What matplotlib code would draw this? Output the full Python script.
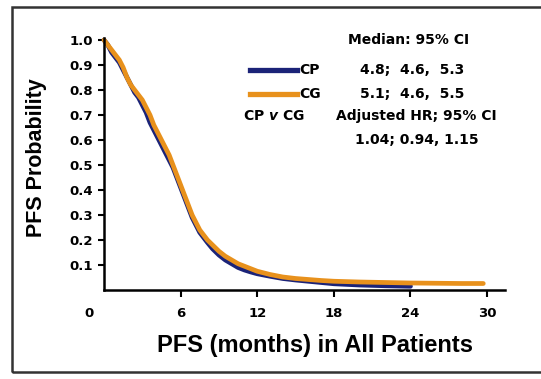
import matplotlib.pyplot as plt
from matplotlib.patches import Rectangle
from matplotlib.transforms import ScaledTranslation

plt.rcParams['font.family'] = ['DejaVu Sans']
plt.rcParams['font.weight'] = 'bold'
plt.rcParams['mathtext.fontset'] = 'dejavusans'

# Kaplan-Meier PFS estimates (months, probability)
cp_months = [0, 0.3, 0.6, 0.9, 1.2, 1.5, 1.8, 2.1, 2.4, 2.7, 3.0, 3.3, 3.6, 3.9,
             4.2, 4.5, 4.8, 5.1, 5.4, 5.7, 6.0, 6.3, 6.6, 6.9, 7.2, 7.5, 7.8,
             8.1, 8.5, 9.0, 9.5, 10.0, 10.5, 11.0, 11.5, 12.0, 13.0, 14.0,
             15.0, 16.0, 17.0, 18.0, 20.0, 22.0, 24.0]
cp_pfs = [1.0, 0.98, 0.95, 0.93, 0.91, 0.88, 0.85, 0.82, 0.79, 0.77, 0.74,
          0.71, 0.67, 0.64, 0.61, 0.58, 0.55, 0.52, 0.49, 0.45, 0.41, 0.37,
          0.33, 0.29, 0.26, 0.23, 0.21, 0.19, 0.165, 0.14, 0.12, 0.105, 0.09,
          0.08, 0.072, 0.065, 0.055, 0.046, 0.04, 0.035, 0.03, 0.025, 0.02,
          0.017, 0.015]

cg_months = [0, 0.3, 0.6, 0.9, 1.2, 1.5, 1.8, 2.1, 2.4, 2.7, 3.0, 3.3, 3.6, 3.9,
             4.2, 4.5, 4.8, 5.1, 5.4, 5.7, 6.0, 6.3, 6.6, 6.9, 7.2, 7.5, 7.8,
             8.1, 8.5, 9.0, 9.5, 10.0, 10.5, 11.0, 11.5, 12.0, 13.0, 14.0,
             15.0, 16.0, 17.0, 18.0, 20.0, 22.0, 24.0, 26.0, 28.0, 29.7]
cg_pfs = [1.0, 0.98, 0.96, 0.94, 0.92, 0.89, 0.85, 0.82, 0.80, 0.78, 0.76,
          0.73, 0.70, 0.66, 0.63, 0.60, 0.57, 0.54, 0.50, 0.46, 0.42, 0.38,
          0.34, 0.30, 0.27, 0.24, 0.22, 0.20, 0.18, 0.155, 0.135, 0.12, 0.105,
          0.095, 0.085, 0.075, 0.062, 0.052, 0.046, 0.042, 0.038, 0.035,
          0.032, 0.03, 0.028, 0.027, 0.026, 0.026]

x_ticks = [0, 6, 12, 18, 24, 30]
y_ticks = [0.1, 0.2, 0.3, 0.4, 0.5, 0.6, 0.7, 0.8, 0.9, 1.0]

W, H = 541, 379
BLUE = '#1b2378'
ORANGE = '#e8911c'

fig = plt.figure(figsize=(W / 100, H / 100), dpi=100)


def fx(px):
    return px / W


def fy(py):
    return 1 - py / H


# outer frame
fig.add_artist(Rectangle((fx(12), fy(372)), fx(545) - fx(12), fy(7) - fy(372),
                         transform=fig.transFigure, fill=False,
                         edgecolor='#333333', linewidth=1.8))

ax = fig.add_axes([fx(104), fy(290), fx(505) - fx(104), fy(40) - fy(290)])
ax.plot(cp_months, cp_pfs, color=BLUE, lw=3.4, clip_on=False,
        solid_joinstyle='round', solid_capstyle='round')
ax.plot(cg_months, cg_pfs, color=ORANGE, lw=3.4, clip_on=False,
        solid_joinstyle='round', solid_capstyle='round')

ax.set_xlim(0, 31.4)
ax.set_ylim(0, 1.0)
for s in ['top', 'right']:
    ax.spines[s].set_visible(False)
for s in ['left', 'bottom']:
    ax.spines[s].set_linewidth(1.8)
ax.spines['left'].set_bounds(0, 1.01)

ax.set_xticks(x_ticks)
ax.set_xticklabels([str(t) for t in x_ticks], fontsize=9.5, fontweight='bold')
ax.set_yticks(y_ticks)
ax.set_yticklabels([f'{v:.1f}' for v in y_ticks], fontsize=9.5, fontweight='bold')
ax.tick_params(axis='x', length=5, width=1.5, pad=7)
ax.tick_params(axis='y', length=4, width=1.5, pad=4)
# the "0" sits left of the corner and has no tick mark
ax.xaxis.get_major_ticks()[0].tick1line.set_visible(False)
lbl0 = ax.get_xticklabels()[0]
lbl0.set_transform(lbl0.get_transform() + ScaledTranslation(-15 / 100, 0, fig.dpi_scale_trans))

ax.set_ylabel('PFS Probability', fontsize=15.5, fontweight='bold',
              family='Liberation Sans')
ax.yaxis.set_label_coords(-0.142, 0.53)
ax.set_xlabel('PFS (months) in All Patients', fontsize=17, fontweight='bold',
              family='Liberation Sans')
ax.xaxis.set_label_coords(0.525, -0.175)

# legend block
fs = 10
fig.text(fx(409), fy(40), 'Median: 95% CI', fontsize=fs, ha='center', va='center')
fig.add_artist(plt.Line2D([fx(250), fx(297)], [fy(70), fy(70)], color=BLUE,
                          lw=3.8, transform=fig.transFigure))
fig.add_artist(plt.Line2D([fx(250), fx(297)], [fy(94), fy(94)], color=ORANGE,
                          lw=3.8, transform=fig.transFigure))
fig.text(fx(299), fy(70), 'CP', fontsize=fs, va='center')
fig.text(fx(299), fy(94), 'CG', fontsize=fs, va='center')
fig.text(fx(412), fy(70), '4.8;  4.6,  5.3', fontsize=fs, ha='center', va='center')
fig.text(fx(412), fy(94), '5.1;  4.6,  5.5', fontsize=fs, ha='center', va='center')
fig.text(fx(243), fy(116), r'CP $\bfit{v}$ CG', fontsize=fs, va='center')
fig.text(fx(336), fy(116), 'Adjusted HR; 95% CI', fontsize=fs, va='center')
fig.text(fx(417), fy(140), '1.04; 0.94, 1.15', fontsize=fs, ha='center', va='center')

fig.savefig('out.png', dpi=100)
